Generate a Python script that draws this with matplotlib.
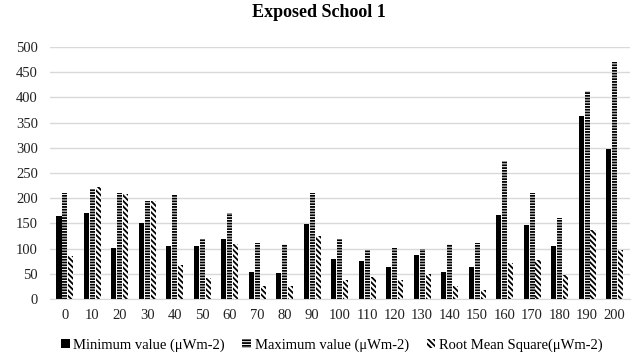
import numpy as np
import matplotlib
matplotlib.use("Agg")
import matplotlib.pyplot as plt

# ── Data ───────────────────────────────────────────────────────────────────────

categories = ["0", "10", "20", "30", "40", "50", "60", "70", "80", "90", "100",
              "110", "120", "130", "140", "150", "160", "170", "180", "190", "200"]

min_values = [165, 170, 102, 150, 105, 106, 120, 53, 51, 148, 80,
              76, 63, 88, 53, 63, 167, 147, 105, 364, 297]
max_values = [210, 219, 210, 194, 207, 120, 170, 112, 110, 211, 120,
              97, 102, 100, 109, 112, 274, 210, 161, 413, 470]
rms_values = [85, 222, 209, 195, 68, 42, 109, 25, 25, 125, 37,
              43, 37, 50, 25, 17, 72, 77, 47, 137, 97]

labels = ["Minimum value (\u03bcWm-2)", "Maximum value (\u03bcWm-2)",
          "Root Mean Square(\u03bcWm-2)"]

# ── Chart ──────────────────────────────────────────────────────────────────────

plt.rcParams["font.family"] = ["Liberation Serif", "DejaVu Serif"]
plt.rcParams["hatch.linewidth"] = 1.3

fig = plt.figure(figsize=(6.38, 3.56), dpi=100)
ax = fig.add_axes([0.078, 0.160, 0.909, 0.708])

x = np.arange(len(categories))
w = 0.185
step = 0.215

ax.bar(x - step, min_values, w, color="black", edgecolor="black", linewidth=0,
       label=labels[0])
ax.bar(x, max_values, w, color="white", edgecolor="black", linewidth=0,
       hatch="------", label=labels[1])
ax.bar(x + step, rms_values, w, color="white", edgecolor="black", linewidth=0,
       hatch="\\\\\\\\\\\\", label=labels[2])

ax.set_ylim(0, 500)
ax.set_xlim(-0.55, len(categories) - 0.45)
ax.set_yticks(range(0, 501, 50))
ax.set_xticks(x)
ax.set_xticklabels(categories)
ax.tick_params(axis="both", length=0, labelsize=10.5, colors="#222222")
ax.tick_params(axis="y", pad=8.5)
ax.tick_params(axis="x", pad=7)

ax.grid(axis="y", color="#d9d9d9", linewidth=1)
ax.set_axisbelow(True)
for side in ["left", "right", "top"]:
    ax.spines[side].set_visible(False)
ax.spines["bottom"].set_color("#d9d9d9")

fig.suptitle("Exposed School 1", x=0.5, y=0.965, fontsize=13,
             fontweight="bold", va="center")

fig.legend(loc="center", bbox_to_anchor=(0.52, 0.031), ncol=3, frameon=False,
           fontsize=10.5, handlelength=0.6, handleheight=0.6, handletextpad=0.25,
           columnspacing=1.2)

fig.savefig("out.png", dpi=100)
